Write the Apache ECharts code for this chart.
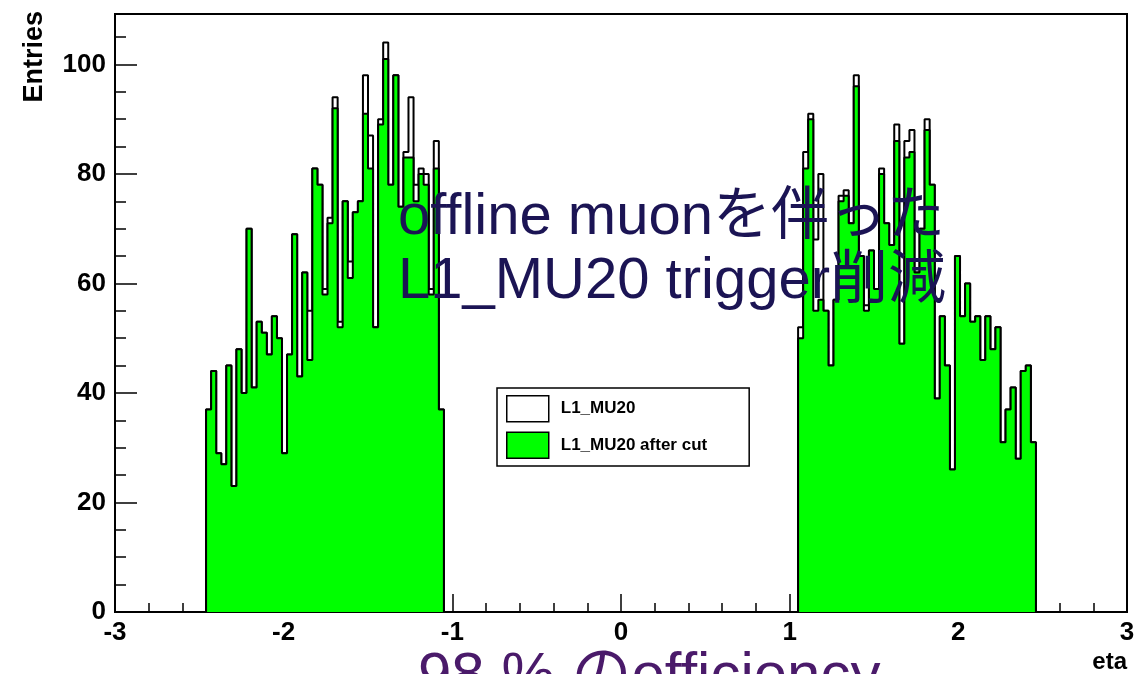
<!DOCTYPE html>
<html>
<head>
<meta charset="utf-8">
<script src="https://cdn.jsdelivr.net/npm/echarts@6/dist/echarts.min.js"></script>
<style>
  html, body { margin: 0; padding: 0; background: #fff; }
  #chart { width: 1143px; height: 674px; }
</style>
</head>
<body>
<div id="chart"></div>
<script>
// eta histogram, 200 bins from -3 to 3
const binWidth = 0.03
const leftStart = -2.46
const rightStart = 1.05

// L1_MU20 (all entries)
const leftTotal = [37, 44, 29, 27, 45, 23, 48, 40, 70, 41, 53, 51, 47, 54, 50, 29, 47, 69, 43, 62, 55, 81, 78, 59,
  72, 94, 53, 75, 64, 73, 75, 98, 87, 52, 90, 104, 78, 98, 74, 84, 94, 78, 81, 80, 59, 86, 37]
const rightTotal = [52, 84, 91, 68, 80, 55, 45, 57, 76, 77, 71, 98, 65, 56, 66, 59, 81, 71, 67, 89, 49, 86, 88, 62,
  70, 90, 78, 39, 54, 45, 26, 65, 54, 60, 53, 54, 46, 54, 48, 52, 31, 37, 41, 28, 44, 45, 31]
// L1_MU20 after cut
const leftCut = [37, 44, 29, 27, 45, 23, 48, 40, 70, 41, 53, 51, 47, 54, 50, 29, 47, 69, 43, 62, 46, 81, 78, 58,
  71, 92, 52, 75, 61, 73, 75, 91, 81, 52, 89, 101, 78, 98, 74, 83, 83, 75, 80, 78, 58, 81, 37]
const rightCut = [50, 81, 90, 55, 57, 55, 45, 57, 75, 76, 71, 96, 65, 55, 66, 59, 80, 71, 67, 86, 49, 83, 84, 62,
  70, 88, 78, 39, 54, 45, 26, 65, 54, 60, 53, 54, 46, 54, 48, 52, 31, 37, 41, 28, 44, 45, 31]

const yTicks = [0, 20, 40, 60, 80, 100]
const legendNames = ['L1_MU20', 'L1_MU20 after cut']

const labelFont = "'Liberation Sans', Arial, sans-serif"
const textFont = "'Liberation Sans', 'Noto Sans CJK JP', sans-serif"

// outline of a histogram: corners of every bin, closed down to 0
function stepPoints(start, values) {
  let pts = [[start, 0]]
  values.forEach((v, i) => {
    let x0 = +(start + i * binWidth).toFixed(4)
    let x1 = +(start + (i + 1) * binWidth).toFixed(4)
    pts.push([x0, v], [x1, v])
  })
  pts.push([+(start + values.length * binWidth).toFixed(4), 0])
  return pts
}

function histSeries(name, start, values, fill, z) {
  return {
    name: name,
    type: 'line',
    data: stepPoints(start, values),
    symbol: 'none',
    silent: true,
    z: z,
    itemStyle: { color: fill },
    lineStyle: { color: '#000', width: 2 },
    areaStyle: { color: fill, opacity: 1 }
  }
}

let myChart = echarts.init(document.getElementById('chart'), null, { renderer: 'canvas' })

let option = {
  backgroundColor: '#fff',
  animation: false,
  grid: {
    left: 115,
    right: 16,
    top: 14,
    bottom: 62,
    show: true,
    borderColor: '#000',
    borderWidth: 2,
    backgroundColor: 'transparent'
  },
  legend: {
    left: 497,
    top: 388,
    orient: 'vertical',
    padding: [7, 42, 7, 9],
    itemWidth: 42,
    itemHeight: 26,
    itemGap: 9,
    backgroundColor: '#fff',
    borderColor: '#000',
    borderWidth: 1.5,
    selectedMode: false,
    textStyle: {
      fontFamily: labelFont,
      fontWeight: 'bold',
      fontSize: 17,
      color: '#000',
      padding: [0, 0, 0, 7]
    },
    data: [
      { name: legendNames[0], icon: 'rect', itemStyle: { color: '#fff', borderColor: '#000', borderWidth: 1.5 } },
      { name: legendNames[1], icon: 'rect', itemStyle: { color: '#00ff00', borderColor: '#000', borderWidth: 1.5 } }
    ]
  },
  xAxis: {
    type: 'value',
    min: -3,
    max: 3,
    interval: 1,
    axisLine: { show: true, onZero: false, lineStyle: { color: '#000', width: 2 } },
    axisTick: { show: true, inside: true, length: 18, lineStyle: { color: '#000', width: 1.5 } },
    minorTick: { show: true, splitNumber: 5, length: 9, lineStyle: { color: '#000', width: 1.5 } },
    splitLine: { show: false },
    axisLabel: {
      margin: 8,
      color: '#000',
      fontFamily: labelFont,
      fontWeight: 'bold',
      fontSize: 26,
      formatter: v => String(v)
    }
  },
  yAxis: {
    type: 'value',
    min: 0,
    max: 109.2,
    interval: 20,
    axisLine: { show: true, onZero: false, lineStyle: { color: '#000', width: 2 } },
    axisTick: { show: true, inside: true, length: 22, lineStyle: { color: '#000', width: 1.5 } },
    minorTick: { show: true, splitNumber: 4, length: 11, lineStyle: { color: '#000', width: 1.5 } },
    splitLine: { show: false },
    axisLabel: {
      margin: 9,
      color: '#000',
      fontFamily: labelFont,
      fontWeight: 'bold',
      fontSize: 26,
      formatter: v => (yTicks.indexOf(v) >= 0 ? String(v) : '')
    }
  },
  series: [
    histSeries(legendNames[0], leftStart, leftTotal, '#ffffff', 2),
    histSeries(legendNames[0], rightStart, rightTotal, '#ffffff', 2),
    histSeries(legendNames[1], leftStart, leftCut, '#00ff00', 3),
    histSeries(legendNames[1], rightStart, rightCut, '#00ff00', 3)
  ],
  graphic: [
    {
      type: 'text', x: 35, y: 11, rotation: Math.PI / 2, z: 100,
      style: { text: 'Entries', font: 'bold 27px ' + labelFont, fill: '#000', align: 'right', verticalAlign: 'middle' }
    },
    {
      type: 'text', x: 1127, y: 662, z: 100,
      style: { text: 'eta', font: 'bold 24px ' + labelFont, fill: '#000', align: 'right', verticalAlign: 'middle' }
    },
    {
      type: 'text', x: 398, y: 218, z: 100,
      style: { text: 'offline muonを伴った', font: '58px ' + textFont, fill: '#1b1454', align: 'left', verticalAlign: 'middle' }
    },
    {
      type: 'text', x: 398, y: 282, z: 100,
      style: { text: 'L1_MU20 trigger削減', font: '58px ' + textFont, fill: '#1b1454', align: 'left', verticalAlign: 'middle' }
    },
    {
      type: 'text', x: 418, y: 677, z: 100,
      style: { text: '98 % のefficiency', font: '60px ' + textFont, fill: '#4a1a6a', align: 'left', verticalAlign: 'middle' }
    }
  ]
}

myChart.setOption(option)
window.addEventListener('resize', () => {
  if (myChart) {
    myChart.resize()
  }
})
</script>
</body>
</html>
